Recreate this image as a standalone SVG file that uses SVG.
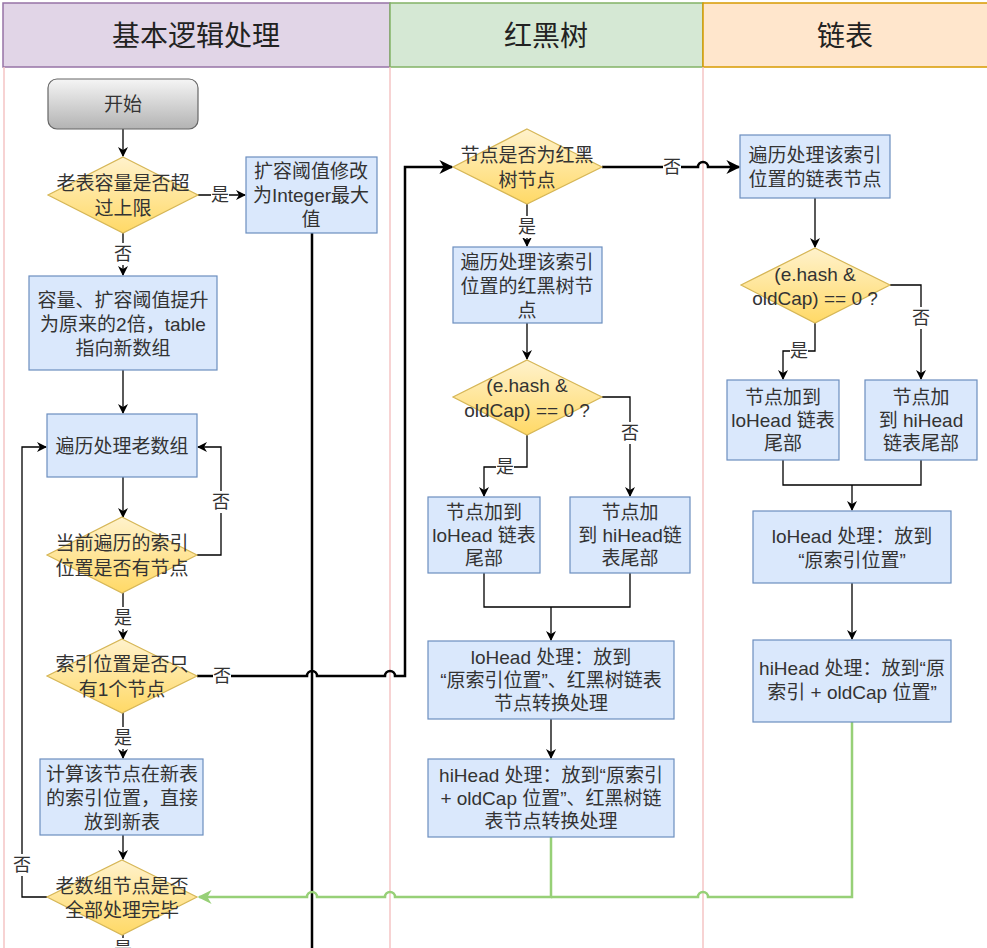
<svg xmlns="http://www.w3.org/2000/svg" width="987" height="948" viewBox="0 0 987 948">
<defs>
<linearGradient id="gY" x1="0" y1="0" x2="0" y2="1"><stop offset="0" stop-color="#fff2cc"/><stop offset="1" stop-color="#ffd966"/></linearGradient>
<linearGradient id="gG" x1="0" y1="0" x2="0" y2="1"><stop offset="0" stop-color="#f5f5f5"/><stop offset="1" stop-color="#b3b3b3"/></linearGradient>
<marker id="ab" viewBox="0 0 10 10" refX="9" refY="5" markerWidth="10" markerHeight="10" markerUnits="userSpaceOnUse" orient="auto"><path d="M0,0 L10,5 L0,10 L3,5 z" fill="#000"/></marker>
<marker id="abT" viewBox="0 0 10 10" refX="9" refY="5" markerWidth="14" markerHeight="14" markerUnits="userSpaceOnUse" orient="auto"><path d="M0,0 L10,5 L0,10 L3,5 z" fill="#000"/></marker>
<marker id="ag" viewBox="0 0 10 10" refX="9" refY="5" markerWidth="14" markerHeight="14" markerUnits="userSpaceOnUse" orient="auto"><path d="M0,0 L10,5 L0,10 L3,5 z" fill="#97d077"/></marker>
<style>
text{font-family:"Liberation Sans","Noto Sans CJK SC",sans-serif;fill:#333;text-anchor:middle;dominant-baseline:central;}
.t{font-size:19px;}
.l{font-size:18px;}
.h{font-size:28px;fill:#222;}
.box{fill:#dae8fc;stroke:#6c8ebf;stroke-width:1.2;}
.dia{fill:url(#gY);stroke:#d6b656;stroke-width:1.2;}
.c{fill:none;stroke:#000;stroke-width:1.3;}
.ck{fill:none;stroke:#000;stroke-width:2.5;}
.cg{fill:none;stroke:#97d077;stroke-width:2.5;}
.lane{stroke:#f4c4c4;stroke-width:1.5;}
.lb{fill:#fff;}
</style>
</defs>
<rect x="0" y="0" width="987" height="948" fill="#fff"/>
<g id="lanes">
<rect x="3" y="3" width="387" height="64" fill="#e1d5e7" stroke="#9673a6" stroke-width="1.5"/>
<rect x="390" y="3" width="313" height="64" fill="#d5e8d4" stroke="#82b366" stroke-width="1.5"/>
<rect x="703" y="3" width="290" height="64" fill="#ffe6cc" stroke="#d79b00" stroke-width="1.5"/>
<text class="h" x="196" y="36">基本逻辑处理</text>
<text class="h" x="546" y="36">红黑树</text>
<text class="h" x="845" y="36">链表</text>
<line class="lane" x1="4" y1="67" x2="4" y2="948"/>
<line class="lane" x1="390" y1="67" x2="390" y2="948"/>
<line class="lane" x1="703" y1="67" x2="703" y2="948"/>
</g>
<g id="connectors">
<path class="c" d="M123,129 L123,156" marker-end="url(#ab)"/>
<path class="c" d="M198,195 L245,195" marker-end="url(#ab)"/>
<path class="ck" d="M312,233 L312,948"/>
<path class="c" d="M123,233 L123,275" marker-end="url(#ab)"/>
<path class="c" d="M123,370 L123,413" marker-end="url(#ab)"/>
<path class="c" d="M123,477 L123,517" marker-end="url(#ab)"/>
<path class="c" d="M197,555 L221,555 L221,447 L198,447" marker-end="url(#ab)"/>
<path class="c" d="M123,593 L123,639" marker-end="url(#ab)"/>
<path class="ck" d="M197,676 L307,676 A5,5 0 0 1 317,676 L385,676 A5,5 0 0 1 395,676 L405,676 L405,167 L452,167" marker-end="url(#abT)"/>
<path class="c" d="M123,713 L123,758" marker-end="url(#ab)"/>
<path class="c" d="M123,835 L123,859" marker-end="url(#ab)"/>
<path class="c" d="M47,897 L22,897 L22,447 L46,447" marker-end="url(#ab)"/>
<path class="c" d="M123,935 L123,948"/>
<path class="ck" d="M602,167 L698,167 A5,5 0 0 1 708,167 L739,167" marker-end="url(#abT)"/>
<path class="c" d="M527,204 L527,246" marker-end="url(#ab)"/>
<path class="c" d="M527,323 L527,359" marker-end="url(#ab)"/>
<path class="c" d="M527,435 L527,467 L484,467 L484,496" marker-end="url(#ab)"/>
<path class="c" d="M602,397 L630,397 L630,496" marker-end="url(#ab)"/>
<path class="c" d="M484,573 L484,607 L630,607 L630,573"/>
<path class="c" d="M551,607 L551,640" marker-end="url(#ab)"/>
<path class="c" d="M551,719 L551,758" marker-end="url(#ab)"/>
<path class="c" d="M815,198 L815,247" marker-end="url(#ab)"/>
<path class="c" d="M815,323 L815,351 L783,351 L783,379" marker-end="url(#ab)"/>
<path class="c" d="M890,285 L921,285 L921,379" marker-end="url(#ab)"/>
<path class="c" d="M783,460 L783,485 L921,485 L921,460"/>
<path class="c" d="M852,485 L852,510" marker-end="url(#ab)"/>
<path class="c" d="M852,583 L852,639" marker-end="url(#ab)"/>
<path class="cg" d="M852,722 L852,897 L708,897 A5,5 0 0 0 698,897 L551,897"/>
<path class="cg" d="M551,837 L551,897 L395,897 A5,5 0 0 0 385,897 L317,897 A5,5 0 0 0 307,897 L199,897" marker-end="url(#ag)"/>
<rect class="lb" x="211" y="184" width="18" height="22"/><text class="l" x="220" y="195">是</text>
<rect class="lb" x="114" y="243" width="18" height="22"/><text class="l" x="123" y="254">否</text>
<rect class="lb" x="212" y="491" width="18" height="22"/><text class="l" x="221" y="502">否</text>
<rect class="lb" x="114" y="607" width="18" height="22"/><text class="l" x="123" y="618">是</text>
<rect class="lb" x="213" y="665" width="18" height="22"/><text class="l" x="222" y="676">否</text>
<rect class="lb" x="114" y="727" width="18" height="22"/><text class="l" x="123" y="738">是</text>
<rect class="lb" x="13" y="854" width="18" height="22"/><text class="l" x="22" y="865">否</text>
<rect class="lb" x="114" y="938" width="18" height="22"/><text class="l" x="123" y="949">是</text>
<rect class="lb" x="663" y="156" width="18" height="22"/><text class="l" x="672" y="167">否</text>
<rect class="lb" x="518" y="216" width="18" height="22"/><text class="l" x="527" y="227">是</text>
<rect class="lb" x="496" y="456" width="18" height="22"/><text class="l" x="505" y="467">是</text>
<rect class="lb" x="621" y="422" width="18" height="22"/><text class="l" x="630" y="433">否</text>
<rect class="lb" x="790" y="340" width="18" height="22"/><text class="l" x="799" y="351">是</text>
<rect class="lb" x="912" y="307" width="18" height="22"/><text class="l" x="921" y="318">否</text>
</g>
<g id="start">
<rect x="48" y="79" width="150" height="50" rx="9" fill="url(#gG)" stroke="#666" stroke-width="1.2"/>
<text class="t" x="123" y="104">开始</text>
</g>
<g id="d1">
<polygon class="dia" points="123,157 198,195 123,233 48,195"/>
<text class="t" x="123" y="183">老表容量是否超</text>
<text class="t" x="123" y="208">过上限</text>
</g>
<g id="n_integer">
<rect class="box" x="246" y="157" width="131" height="76"/>
<text class="t" x="311" y="171">扩容阈值修改</text>
<text class="t" x="311" y="195">为Integer最大</text>
<text class="t" x="311" y="219">值</text>
</g>
<g id="n_resize">
<rect class="box" x="29" y="276" width="188" height="94"/>
<text class="t" x="123" y="300">容量、扩容阈值提升</text>
<text class="t" x="123" y="324">为原来的2倍，table</text>
<text class="t" x="123" y="348">指向新数组</text>
</g>
<g id="n_loop">
<rect class="box" x="47" y="414" width="150" height="63"/>
<text class="t" x="122" y="446">遍历处理老数组</text>
</g>
<g id="d2">
<polygon class="dia" points="122,517 197,555 122,593 47,555"/>
<text class="t" x="122" y="543">当前遍历的索引</text>
<text class="t" x="122" y="568">位置是否有节点</text>
</g>
<g id="d3">
<polygon class="dia" points="122,639 197,676 122,713 47,676"/>
<text class="t" x="122" y="664">索引位置是否只</text>
<text class="t" x="122" y="689">有1个节点</text>
</g>
<g id="n_single">
<rect class="box" x="40" y="759" width="163" height="76"/>
<text class="t" x="122" y="774">计算该节点在新表</text>
<text class="t" x="122" y="798">的索引位置，直接</text>
<text class="t" x="122" y="822">放到新表</text>
</g>
<g id="d4">
<polygon class="dia" points="122,860 197,897 122,935 47,897"/>
<text class="t" x="122" y="886">老数组节点是否</text>
<text class="t" x="122" y="910">全部处理完毕</text>
</g>
<g id="d_rb">
<polygon class="dia" points="527,129 602,167 527,204 453,167"/>
<text class="t" x="527" y="155">节点是否为红黑</text>
<text class="t" x="527" y="180">树节点</text>
</g>
<g id="n_rbloop">
<rect class="box" x="453" y="247" width="149" height="76"/>
<text class="t" x="527" y="262">遍历处理该索引</text>
<text class="t" x="527" y="286">位置的红黑树节</text>
<text class="t" x="527" y="310">点</text>
</g>
<g id="d_rbhash">
<polygon class="dia" points="527,360 602,397 527,435 453,397"/>
<text class="t" x="527" y="385">(e.hash &amp;</text>
<text class="t" x="527" y="410">oldCap) == 0 ?</text>
</g>
<g id="n_rblo">
<rect class="box" x="428" y="497" width="112" height="76"/>
<text class="t" x="484" y="512">节点加到</text>
<text class="t" x="484" y="535">loHead 链表</text>
<text class="t" x="484" y="558">尾部</text>
</g>
<g id="n_rbhi">
<rect class="box" x="570" y="497" width="120" height="76"/>
<text class="t" x="630" y="512">节点加</text>
<text class="t" x="630" y="535">到 hiHead链</text>
<text class="t" x="630" y="558">表尾部</text>
</g>
<g id="n_rblohead">
<rect class="box" x="428" y="641" width="246" height="78"/>
<text class="t" x="551" y="657">loHead 处理：放到</text>
<text class="t" x="551" y="680">“原索引位置”、红黑树链表</text>
<text class="t" x="551" y="703">节点转换处理</text>
</g>
<g id="n_rbhihead">
<rect class="box" x="428" y="759" width="246" height="78"/>
<text class="t" x="551" y="775">hiHead 处理：放到“原索引</text>
<text class="t" x="551" y="798">+ oldCap 位置”、红黑树链</text>
<text class="t" x="551" y="821">表节点转换处理</text>
</g>
<g id="n_lloop">
<rect class="box" x="740" y="135" width="150" height="63"/>
<text class="t" x="815" y="155">遍历处理该索引</text>
<text class="t" x="815" y="179">位置的链表节点</text>
</g>
<g id="d_lhash">
<polygon class="dia" points="815,248 890,285 815,323 741,285"/>
<text class="t" x="815" y="274">(e.hash &amp;</text>
<text class="t" x="815" y="298">oldCap) == 0 ?</text>
</g>
<g id="n_llo">
<rect class="box" x="727" y="380" width="112" height="80"/>
<text class="t" x="783" y="397">节点加到</text>
<text class="t" x="783" y="420">loHead 链表</text>
<text class="t" x="783" y="443">尾部</text>
</g>
<g id="n_lhi">
<rect class="box" x="865" y="380" width="112" height="80"/>
<text class="t" x="921" y="397">节点加</text>
<text class="t" x="921" y="420">到 hiHead</text>
<text class="t" x="921" y="443">链表尾部</text>
</g>
<g id="n_llohead">
<rect class="box" x="753" y="511" width="198" height="72"/>
<text class="t" x="852" y="536">loHead 处理：放到</text>
<text class="t" x="852" y="560">“原索引位置”</text>
</g>
<g id="n_lhihead">
<rect class="box" x="753" y="640" width="198" height="82"/>
<text class="t" x="852" y="668">hiHead 处理：放到“原</text>
<text class="t" x="852" y="692">索引 + oldCap 位置”</text>
</g>
</svg>
